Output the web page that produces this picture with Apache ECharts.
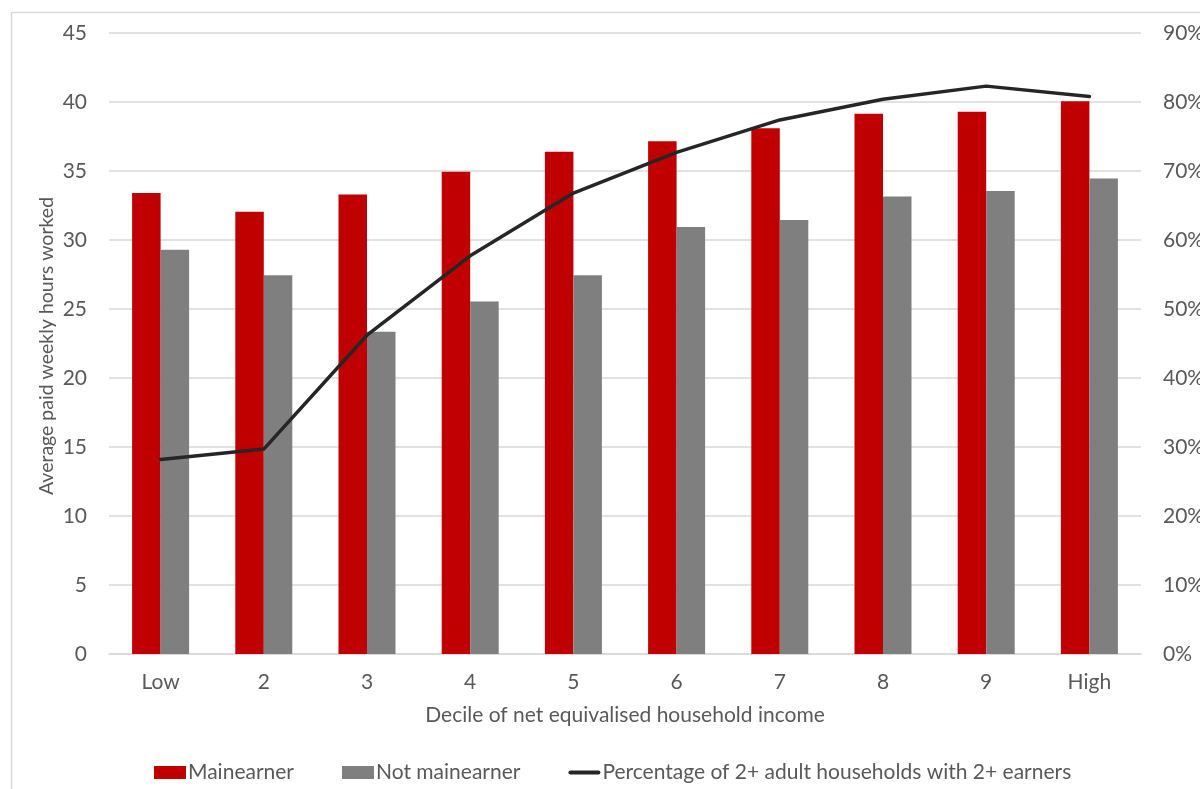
<!DOCTYPE html>
<html>
<head>
<meta charset="utf-8">
<script src="https://cdn.jsdelivr.net/npm/echarts@6/dist/echarts.min.js"></script>
<style>
  html, body { margin: 0; padding: 0; background: #ffffff; }
  #chart { width: 1200px; height: 789px; }
</style>
</head>
<body>
<div id="chart"></div>
<script>
// Income deciles (net equivalised household income)
const deciles = ['Low', '2', '3', '4', '5', '6', '7', '8', '9', 'High'];

// Average paid weekly hours worked
const mainEarnerHours = [33.4, 32.05, 33.3, 34.95, 36.4, 37.15, 38.1, 39.15, 39.3, 40.05];
const notMainEarnerHours = [29.3, 27.45, 23.35, 25.55, 27.45, 30.95, 31.45, 33.15, 33.55, 34.45];

// Share of 2+ adult households with 2+ earners (%)
const twoEarnerShare = [28.2, 29.7, 46.2, 57.7, 66.8, 72.7, 77.4, 80.4, 82.3, 80.8];

const FONT = 'Lato, "Open Sans", sans-serif';
const TXT = '#595959';
const GRID = '#d9d9d9';

const chart = echarts.init(document.getElementById('chart'));
chart.setOption({
  animation: false,
  backgroundColor: '#ffffff',
  textStyle: { fontFamily: FONT },
  graphic: [
    {
      type: 'rect',
      shape: { x: 11.5, y: 12.5, width: 1300, height: 900 },
      style: { fill: 'none', stroke: GRID, lineWidth: 1.5 },
      silent: true
    },
    {
      type: 'text',
      x: 47, y: 346,
      rotation: Math.PI / 2,
      style: {
        text: 'Average paid weekly hours worked',
        fill: TXT, font: '19.5px ' + FONT,
        align: 'center', verticalAlign: 'middle'
      }
    }
  ],
  grid: { left: 109, right: 59, top: 33, bottom: 135, containLabel: false, outerBoundsMode: 'none' },
  legend: {
    left: 149, top: 757,
    itemWidth: 32, itemHeight: 13, itemGap: 48,
    textStyle: { color: TXT, fontSize: 21, fontFamily: FONT, padding: [0, 0, 0, -3] },
    data: [
      { name: 'Mainearner', icon: 'rect' },
      { name: 'Not mainearner', icon: 'rect' },
      { name: 'Percentage of 2+ adult households with 2+ earners', icon: 'path://M2,0 H30 A2,2 0 0 1 30,4 H2 A2,2 0 0 1 2,0 Z' }
    ]
  },
  xAxis: {
    type: 'category',
    data: deciles,
    axisLine: { lineStyle: { color: GRID, width: 1.5 } },
    axisTick: { show: false },
    axisLabel: { color: TXT, fontSize: 21, margin: 18, fontFamily: FONT },
    name: 'Decile of net equivalised household income',
    nameLocation: 'middle',
    nameGap: 51,
    nameTextStyle: { color: TXT, fontSize: 21, fontFamily: FONT }
  },
  yAxis: [
    {
      type: 'value', min: 0, max: 45, interval: 5,
      axisLine: { show: false }, axisTick: { show: false },
      axisLabel: { color: TXT, fontSize: 21, margin: 22, fontFamily: FONT },
      splitLine: { lineStyle: { color: GRID, width: 1.5 } }
    },
    {
      type: 'value', min: 0, max: 90, interval: 10,
      axisLine: { show: false }, axisTick: { show: false },
      axisLabel: { color: TXT, fontSize: 21, margin: 22, fontFamily: FONT, formatter: '{value}%' },
      splitLine: { show: false }
    }
  ],
  series: [
    {
      name: 'Mainearner', type: 'bar', data: mainEarnerHours,
      barWidth: 28.5, barGap: '0%',
      itemStyle: { color: '#c00000' }
    },
    {
      name: 'Not mainearner', type: 'bar', data: notMainEarnerHours,
      barWidth: 28.5, barGap: '0%',
      itemStyle: { color: '#7f7f7f' }
    },
    {
      name: 'Percentage of 2+ adult households with 2+ earners',
      type: 'line', yAxisIndex: 1, data: twoEarnerShare,
      symbol: 'none',
      lineStyle: { color: '#262626', width: 3.5, cap: 'round', join: 'round' },
      itemStyle: { color: '#262626' },
      z: 5
    }
  ]
});
</script>
</body>
</html>
